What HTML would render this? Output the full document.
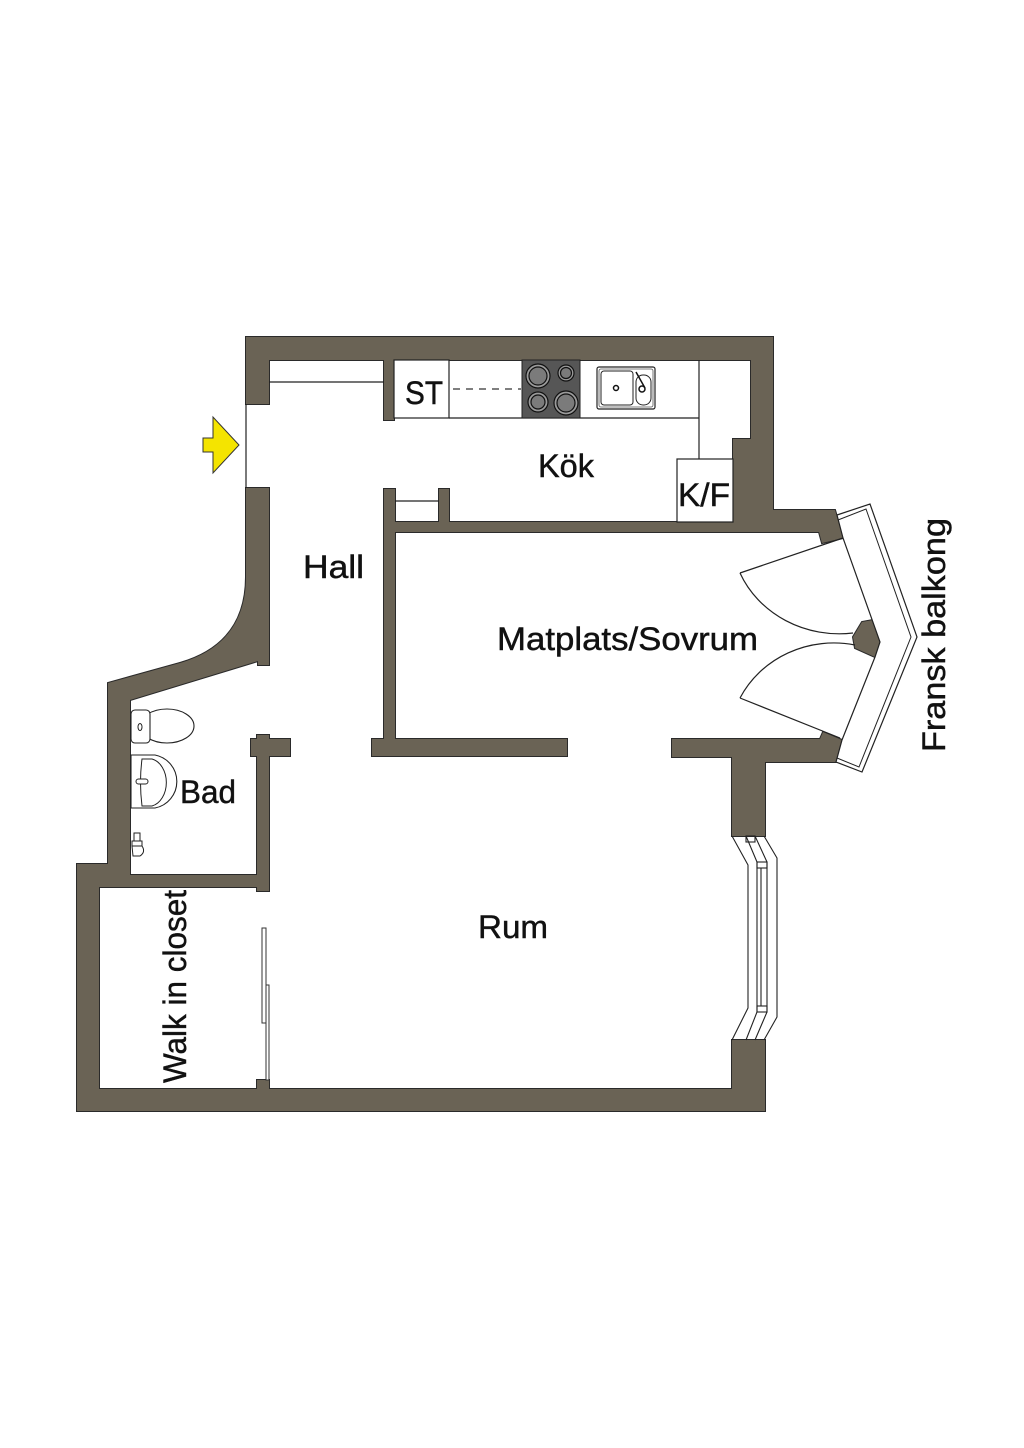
<!DOCTYPE html>
<html>
<head>
<meta charset="utf-8">
<style>
  html,body{margin:0;padding:0;background:#fff;}
  svg{display:block;}
  text{font-family:"Liberation Sans", "DejaVu Sans", sans-serif;fill:#111;stroke:#111;stroke-width:0.45;}
</style>
</head>
<body>
<svg width="1024" height="1448" viewBox="0 0 1024 1448" xmlns="http://www.w3.org/2000/svg">
  <rect x="0" y="0" width="1024" height="1448" fill="#fff"/>
  <defs>
    <g id="walls">
      <rect x="246" y="337" width="527" height="23"/>
      <rect x="246" y="337" width="23" height="67"/>
      <polygon points="751,337 773,337 773,510 835,510 843,538 822,543 819,532 733,532 733,439 751,439"/>
      <rect x="384" y="360" width="10" height="60"/>
      <rect x="384" y="522" width="437" height="10"/>
      <rect x="439" y="489" width="10" height="34"/>
      <rect x="384" y="489" width="11" height="267"/>
      <rect x="372" y="739" width="195" height="17"/>
      <polygon points="672,739 820,739 823,732 842,740 836,762 765,762 765,836 732,836 732,757 672,757"/>
      <rect x="732" y="1040" width="33" height="71"/>
      <rect x="77" y="1089" width="688" height="22"/>
      <rect x="77" y="864" width="22" height="247"/>
      <rect x="77" y="864" width="53" height="23"/>
      <rect x="108" y="875" width="161" height="12"/>
      <path d="M246,488 L269,488 L269,665 L258,665 L258,661 L130,700 L130,887 L108,887 L108,683 L180,663 C225,650 246,620 246,577 Z"/>
      <rect x="257" y="739" width="12" height="152"/>
      <rect x="251" y="739" width="39" height="17"/>
      <rect x="257" y="735" width="12" height="5"/>
      <rect x="257" y="1080" width="12" height="10"/>
      <polygon points="853,637 862,622 873,620 880,642 875,657 855,648"/>
    </g>
  </defs>

  <use href="#walls" fill="#6a6355" stroke="#2a2a2a" stroke-width="2"/>
  <use href="#walls" fill="#6a6355" stroke="none"/>

  <line x1="269" y1="382" x2="384" y2="382" stroke="#222" stroke-width="1.2"/>
  <line x1="246" y1="404" x2="246" y2="488" stroke="#222" stroke-width="1.2"/>
  <line x1="395" y1="501" x2="439" y2="501" stroke="#222" stroke-width="1.2"/>

  <polygon points="203,438 213,438 213,417 239,445 213,473 213,452 203,452" fill="#f4e400" stroke="#333" stroke-width="1"/>

  <rect x="394" y="360" width="55" height="58" fill="#fff" stroke="#222" stroke-width="1.2"/>
  <line x1="449" y1="418" x2="699" y2="418" stroke="#222" stroke-width="1.2"/>
  <line x1="699" y1="360" x2="699" y2="459" stroke="#222" stroke-width="1.2"/>
  <rect x="677" y="459" width="56" height="63" fill="#fff" stroke="#222" stroke-width="1.2"/>
  <line x1="453" y1="389" x2="521" y2="389" stroke="#333" stroke-width="1.2" stroke-dasharray="7,6"/>
  <rect x="522" y="360" width="58" height="58" fill="#565656" stroke="#222" stroke-width="1"/>
  <g stroke="#111" stroke-width="1.2">
    <circle cx="538" cy="376" r="12" fill="#9a9a9a"/>
    <circle cx="538" cy="376" r="9" fill="#7b7b7b"/>
    <circle cx="566" cy="373" r="8" fill="#9a9a9a"/>
    <circle cx="566" cy="373" r="5.5" fill="#7b7b7b"/>
    <circle cx="538" cy="402" r="10" fill="#9a9a9a"/>
    <circle cx="538" cy="402" r="7" fill="#7b7b7b"/>
    <circle cx="566" cy="403" r="12" fill="#9a9a9a"/>
    <circle cx="566" cy="403" r="9" fill="#7b7b7b"/>
  </g>
  <rect x="597" y="367" width="58" height="42" rx="2" fill="#fff" stroke="#222" stroke-width="1.2"/>
  <rect x="599" y="369" width="54" height="38" rx="2" fill="none" stroke="#555" stroke-width="0.8"/>
  <rect x="601" y="371" width="32" height="34" rx="3" fill="#fff" stroke="#222" stroke-width="1"/>
  <rect x="636" y="375" width="15" height="30" rx="7" fill="#fff" stroke="#222" stroke-width="1"/>
  <circle cx="616" cy="388" r="2.5" fill="none" stroke="#111" stroke-width="1.5"/>
  <circle cx="642" cy="389" r="3" fill="none" stroke="#111" stroke-width="1.5"/>
  <line x1="636" y1="372" x2="645" y2="388" stroke="#111" stroke-width="1.5"/>

  <polygon points="837,515 870,504 917,637 862,772 836,762 842,740 875,657 880,642 843,538" fill="#fff" stroke="#222" stroke-width="1.2"/>
  <polyline points="838,520 866,509 911,637 859,767 837,758" fill="none" stroke="#222" stroke-width="1"/>
  <line x1="740" y1="573" x2="843" y2="538" stroke="#222" stroke-width="1.2"/>
  <path d="M740,573 A108,100 0 0 0 853,633" fill="none" stroke="#222" stroke-width="1.2"/>
  <line x1="740" y1="698" x2="840" y2="738" stroke="#222" stroke-width="1.2"/>
  <path d="M740,698 A105,100 0 0 1 855,645" fill="none" stroke="#222" stroke-width="1.2"/>

  <g fill="none" stroke="#222" stroke-width="1.1">
    <polyline points="732,836 748,865 748,1008 732,1040"/>
    <polyline points="764,836 777,858 777,1017 764,1040"/>
    <polyline points="746,836 757,862 757,1012 746,1040"/>
    <polyline points="755,836 767,862 767,1012 755,1040"/>
    <line x1="761" y1="868" x2="761" y2="1006"/>
    <rect x="746" y="836" width="9" height="6"/>
    <rect x="757" y="862" width="10" height="6"/>
    <rect x="757" y="1006" width="10" height="6"/>
  </g>

  <ellipse cx="167" cy="726" rx="27" ry="17" fill="#fff" stroke="#222" stroke-width="1.1"/>
  <rect x="131" y="710" width="19" height="33" rx="4" fill="#fff" stroke="#222" stroke-width="1.1"/>
  <ellipse cx="140" cy="727" rx="2" ry="3.5" fill="none" stroke="#222" stroke-width="1"/>
  <path d="M131,755 L155,755 A27,27 0 0 1 155,808 L131,808 Z" fill="#fff" stroke="#222" stroke-width="1.1"/>
  <path d="M142,759 L152,759 A18,24 0 0 1 152,806 L142,806 Q139,782 142,759 Z" fill="#fff" stroke="#222" stroke-width="1"/>
  <rect x="136" y="779" width="12" height="5" rx="2.5" fill="#fff" stroke="#222" stroke-width="1"/>
  <g fill="#fff" stroke="#222" stroke-width="1">
    <rect x="134" y="833" width="6" height="8"/>
    <rect x="132" y="841" width="10" height="5"/>
    <path d="M132,846 L142,846 Q146,852 140,856 L133,856 Z"/>
  </g>

  <rect x="262" y="928" width="4" height="95" fill="#fff" stroke="#333" stroke-width="1"/>
  <rect x="266" y="985" width="3" height="95" fill="#fff" stroke="#333" stroke-width="1"/>

  <text x="405" y="404" font-size="32" textLength="38" lengthAdjust="spacingAndGlyphs">ST</text>
  <text x="538" y="477" font-size="32" textLength="56" lengthAdjust="spacingAndGlyphs">Kök</text>
  <text x="678" y="506" font-size="32" textLength="52" lengthAdjust="spacingAndGlyphs">K/F</text>
  <text x="303" y="578" font-size="32" textLength="61" lengthAdjust="spacingAndGlyphs">Hall</text>
  <text x="497" y="650" font-size="32" textLength="261" lengthAdjust="spacingAndGlyphs">Matplats/Sovrum</text>
  <text x="180" y="803" font-size="32" textLength="56" lengthAdjust="spacingAndGlyphs">Bad</text>
  <text x="478" y="938" font-size="32" textLength="70" lengthAdjust="spacingAndGlyphs">Rum</text>
  <text transform="translate(186,1083) rotate(-90)" font-size="32" textLength="193" lengthAdjust="spacingAndGlyphs">Walk in closet</text>
  <text transform="translate(945,752) rotate(-90)" font-size="32" textLength="234" lengthAdjust="spacingAndGlyphs">Fransk balkong</text>
</svg>
</body>
</html>
